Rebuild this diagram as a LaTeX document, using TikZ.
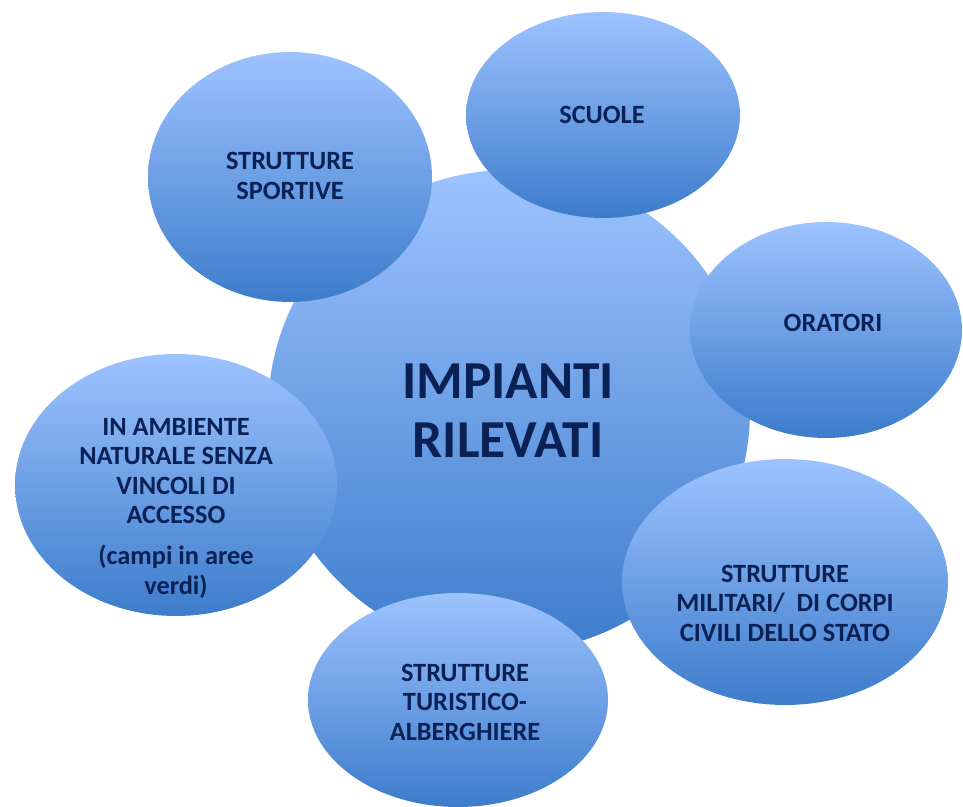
\documentclass[tikz,border=0pt]{standalone}
\usepackage{fontspec}
\setmainfont{Carlito}
\usepackage{xcolor}
\usepackage{tikz}
\usetikzlibrary{shapes.geometric}
\definecolor{bubtop}{HTML}{9DC3FF}
\definecolor{bubbot}{HTML}{3D7CCB}
\definecolor{navy}{HTML}{0A2156}
\tikzstyle{bubble} = [ellipse, inner sep=0pt, top color=bubtop, bottom color=bubbot]
\tikzstyle{txt} = [align=center, text=navy, font=\fontsize{15}{16.8}\selectfont\bfseries]
\tikzstyle{bigtxt} = [align=center, text=navy, font=\fontsize{30.4}{33.5}\selectfont\bfseries]

\begin{document}
\begin{tikzpicture}[x=0.02cm, y=-0.02cm]
		\useasboundingbox (0,0) rectangle (963,807);
		\clip (0,0) rectangle (963,807);

		\node (centre) [bubble, circle, minimum size=9.64cm] at (509,411) {};
		\node (sport) [bubble, minimum width=5.68cm, minimum height=5cm] at (290,177) {};
		\node (scuole) [bubble, minimum width=5.48cm, minimum height=4.12cm] at (603,115) {};
		\node (orat) [bubble, minimum width=5.44cm, minimum height=4.32cm] at (826,330) {};
		\node (amb) [bubble, minimum width=6.44cm, minimum height=5.24cm] at (176,485) {};
		\node (milit) [bubble, minimum width=6.52cm, minimum height=4.92cm] at (785,582) {};
		\node (turist) [bubble, minimum width=6cm, minimum height=4.28cm] at (458,700) {};

		\node (centretxt) [bigtxt] at (508,411) {IMPIANTI\\RILEVATI};
		\node (sporttxt) [txt] at (290,176) {STRUTTURE\\SPORTIVE};
		\node (scuoletxt) [txt] at (602,115) {SCUOLE};
		\node (orattxt) [txt] at (833,323) {ORATORI};
		\node (ambtxt) [txt] at (176,508) {IN AMBIENTE\\NATURALE SENZA\\VINCOLI DI\\ACCESSO\\[6.5pt](campi in aree\\verdi)};
		\node (milittxt) [txt] at (785,603) {STRUTTURE\\MILITARI/\ \ DI CORPI\\CIVILI DELLO STATO};
		\node (turisttxt) [txt] at (465,702) {STRUTTURE\\TURISTICO-\\ALBERGHIERE};
	\end{tikzpicture}
\end{document}
